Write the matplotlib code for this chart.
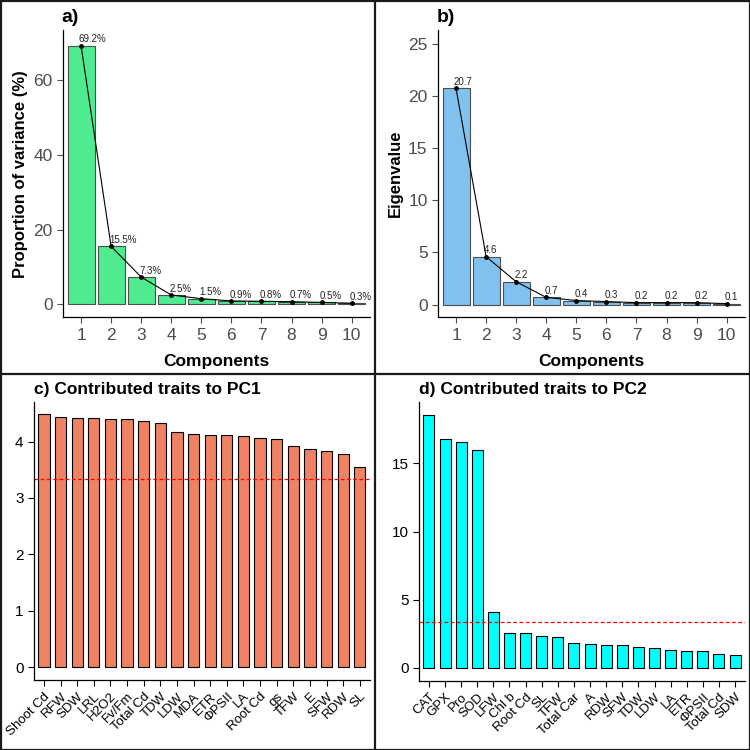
import numpy as np
import matplotlib
matplotlib.use("Agg")
import matplotlib.pyplot as plt
from matplotlib.lines import Line2D

plt.rcParams['font.family'] = ['Liberation Sans', 'DejaVu Sans']

# scree data
components = np.arange(1, 11)
variance_pct = [69.2, 15.5, 7.3, 2.5, 1.5, 0.9, 0.8, 0.7, 0.5, 0.3]
eigenvalues = [20.7, 4.6, 2.2, 0.7, 0.4, 0.3, 0.2, 0.2, 0.2, 0.1]

# contributions to PC1
pc1_traits = ['Shoot Cd', 'RFW', 'SDW', 'LRL', 'H2O2', 'Fv/Fm', 'Total Cd', 'TDW',
              'LDW', 'MDA', 'ETR', 'ΦPSII', 'LA', 'Root Cd', 'gs', 'TFW', 'E',
              'SFW', 'RDW', 'SL']
pc1_contrib = [4.48, 4.43, 4.42, 4.41, 4.405, 4.40, 4.37, 4.33, 4.17, 4.13, 4.12,
               4.12, 4.10, 4.065, 4.04, 3.92, 3.865, 3.84, 3.78, 3.545]

# contributions to PC2
pc2_traits = ['CAT', 'GPX', 'Pro', 'SOD', 'LFW', 'Chl b', 'Root Cd', 'SL', 'TFW',
              'Total Car', 'A', 'RDW', 'SFW', 'TDW', 'LDW', 'LA', 'ETR', 'ΦPSII',
              'Total Cd', 'SDW']
pc2_contrib = [18.55, 16.8, 16.55, 15.95, 4.07, 2.58, 2.55, 2.34, 2.29, 1.82, 1.78,
               1.68, 1.68, 1.51, 1.46, 1.31, 1.27, 1.27, 1.05, 0.95]

expected = 100 / 30

fig = plt.figure(figsize=(7.5, 7.5), dpi=100)

grey = '#4D4D4D'


def scree(ax, vals, labels, color, ylabel, title, ylim, yticks):
    ax.bar(components, vals, width=0.9, color=color, edgecolor=grey, linewidth=0.8)
    ax.plot(components, vals, color='black', linewidth=0.8, marker='o', markersize=2.5)
    for c, v, t in zip(components, vals, labels):
        ax.annotate(t, (c, v), xytext=(-1.5, 1), textcoords='offset points',
                    ha='left', va='bottom', fontsize=7, color='#222222')
    ax.set_xlim(0.4, 10.6)
    ax.set_ylim(*ylim)
    ax.set_xticks(components)
    ax.set_yticks(yticks)
    ax.tick_params(colors=grey, labelsize=12.5, length=4, width=0.8)
    ax.spines[['top', 'right']].set_visible(False)
    ax.spines[['left', 'bottom']].set_linewidth(0.9)
    ax.set_xlabel('Components', fontsize=12.5, fontweight='bold', labelpad=8)
    ax.set_ylabel(ylabel, fontsize=12, fontweight='bold')
    ax.set_title(title, loc='left', fontsize=14, fontweight='bold', pad=6, x=-0.005)


def contrib(ax, traits, vals, color, title, ylim, yticks):
    x = np.arange(1, len(traits) + 1)
    ax.bar(x, vals, width=0.68, color=color, edgecolor='black', linewidth=0.8)
    ax.axhline(expected, color='red', linestyle=(0, (3, 2)), linewidth=0.9)
    ax.set_xlim(0.4, 20.6)
    ax.set_ylim(*ylim)
    ax.set_xticks(x)
    ax.set_xticklabels(traits, rotation=45, ha='right', va='top',
                       rotation_mode='anchor', fontsize=9.5)
    ax.set_yticks(yticks)
    ax.tick_params(axis='y', labelsize=11, length=4, width=0.8)
    ax.tick_params(axis='x', length=4, width=0.8)
    ax.spines[['top', 'right']].set_visible(False)
    ax.spines[['left', 'bottom']].set_linewidth(0.9)
    ax.set_title(title, loc='left', fontsize=12.5, fontweight='bold', pad=6, x=0.0)


ax_a = fig.add_axes([0.084, 0.577, 0.409, 0.383])
scree(ax_a, variance_pct, [f'{v}%' for v in variance_pct], '#4EEB91',
      'Proportion of variance (%)', 'a)', (-3.46, 73.4), [0, 20, 40, 60])

ax_b = fig.add_axes([0.584, 0.577, 0.409, 0.383])
scree(ax_b, eigenvalues, [f'{v}' for v in eigenvalues], '#80C1EE',
      'Eigenvalue', 'b)', (-1.2, 26.3), [0, 5, 10, 15, 20, 25])

ax_c = fig.add_axes([0.0453, 0.0933, 0.4477, 0.3707])
contrib(ax_c, pc1_traits, pc1_contrib, '#EE8262', 'c) Contributed traits to PC1',
        (-0.224, 4.70), [0, 1, 2, 3, 4])

ax_d = fig.add_axes([0.559, 0.0925, 0.434, 0.3715])
contrib(ax_d, pc2_traits, pc2_contrib, '#00FFFF', 'd) Contributed traits to PC2',
        (-0.93, 19.5), [0, 5, 10, 15])

# panel borders
lw = 1.6
for xs, ys in [([0.5 / 750, 1 - 0.5 / 750], [1 - 0.5 / 750] * 2),
               ([0.5 / 750, 1 - 0.5 / 750], [0.5 / 750] * 2),
               ([0.5 / 750] * 2, [0, 1]),
               ([1 - 0.5 / 750] * 2, [0, 1]),
               ([0, 1], [1 - 374 / 750] * 2),
               ([374.5 / 750] * 2, [0, 1])]:
    fig.add_artist(Line2D(xs, ys, color='#1a1a1a', linewidth=lw,
                          transform=fig.transFigure))

fig.savefig('out.png', dpi=100)
